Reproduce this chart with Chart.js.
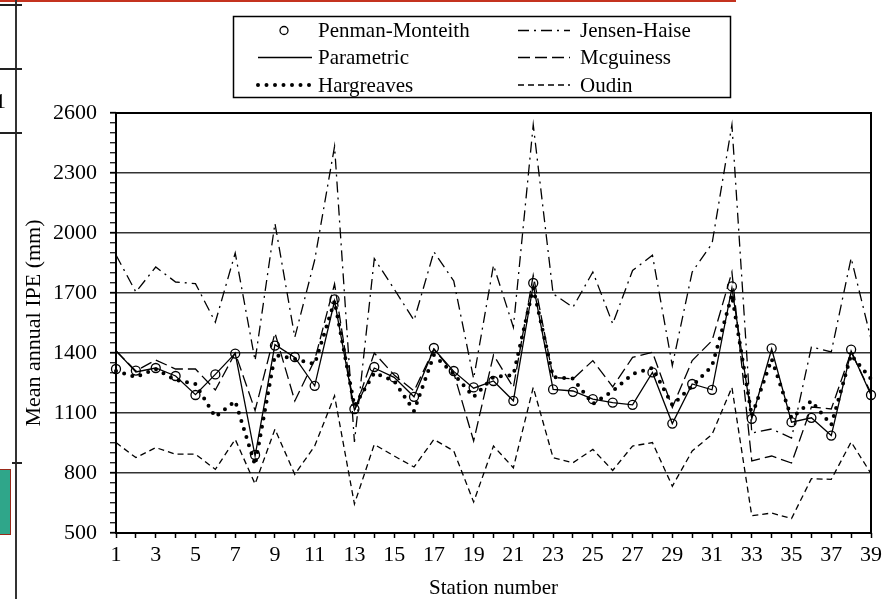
<!DOCTYPE html>
<html>
<head>
<meta charset="utf-8">
<script src="https://cdn.jsdelivr.net/npm/chart.js@4.4.0/dist/chart.umd.min.js"></script>
<style>
  body { margin: 0; background: #fff; }
  #wrap { position: relative; width: 884px; height: 599px; overflow: hidden; background: #fff; }
  #chart { position: absolute; left: 0; top: 0; }
  .deco { position: absolute; }
</style>
</head>
<body>
<div id="wrap">
  <canvas id="chart" width="884" height="599"></canvas>
  <!-- bits of the neighbouring figure that show at the left edge -->
  <div class="deco" style="left:0;top:0;width:736px;height:2px;background:#c4321f;"></div>
  <div class="deco" style="left:15px;top:0;width:2px;height:599px;background:#333;"></div>
  <div class="deco" style="left:0;top:4px;width:22px;height:2px;background:#222;"></div>
  <div class="deco" style="left:0;top:68px;width:22px;height:2px;background:#222;"></div>
  <div class="deco" style="left:0;top:132px;width:22px;height:2px;background:#222;"></div>
  <div class="deco" style="left:12px;top:462px;width:10px;height:2px;background:#222;"></div>
  <div class="deco" style="left:-5px;top:88px;font:22px 'Liberation Serif';color:#000;">1</div>
  <div class="deco" style="left:-2px;top:469px;width:11px;height:64px;background:#2fa68a;border:1.5px solid #9a2a1a;"></div>
</div>
<script>
var FONT = "'Liberation Serif', 'Times New Roman', serif";

var stations = [];
for (var n = 1; n <= 39; n++) stations.push(String(n));

var penmanMonteith = [1320, 1312, 1325, 1285, 1190, 1293, 1397, 890, 1437, 1380,
  1236, 1668, 1120, 1330, 1278, 1181, 1425, 1310, 1228, 1260,
  1161, 1750, 1218, 1206, 1169, 1152, 1141, 1303, 1047, 1245,
  1216, 1733, 1071, 1423, 1054, 1076, 987, 1417, 1190];

var parametric = [1412, 1305, 1325, 1285, 1192, 1293, 1398, 885, 1442, 1378,
  1236, 1660, 1115, 1325, 1278, 1181, 1420, 1308, 1224, 1260,
  1161, 1740, 1218, 1210, 1169, 1152, 1141, 1303, 1047, 1245,
  1216, 1725, 1071, 1420, 1054, 1076, 987, 1410, 1190];

var hargreaves = [1310, 1280, 1320, 1265, 1245, 1080, 1160, 840, 1390, 1370,
  1345, 1660, 1135, 1300, 1260, 1110, 1390, 1295, 1180, 1280,
  1290, 1725, 1280, 1272, 1145, 1210, 1295, 1325, 1140, 1235,
  1335, 1690, 1085, 1370, 1075, 1160, 1040, 1390, 1270];

var jensenHaise = [1890, 1705, 1830, 1755, 1747, 1554, 1900, 1362, 2048, 1479,
  1865, 2433, 955, 1872, 1720, 1563, 1906, 1760, 1272, 1839,
  1529, 2541, 1696, 1629, 1805, 1546, 1813, 1889, 1337, 1805,
  1947, 2541, 1000, 1020, 975, 1430, 1405, 1875, 1470];

var mcguiness = [1410, 1310, 1365, 1320, 1320, 1215, 1400, 1113, 1500, 1160,
  1365, 1745, 1110, 1400, 1290, 1210, 1420, 1300, 960, 1390,
  1228, 1788, 1278, 1270, 1362, 1231, 1378, 1404, 1128, 1362,
  1462, 1805, 860, 885, 850, 1130, 1120, 1405, 1200];

var oudin = [952, 877, 927, 894, 894, 818, 968, 745, 1019, 793,
  935, 1186, 645, 943, 885, 830, 968, 910, 655, 935,
  826, 1228, 876, 851, 918, 813, 935, 952, 734, 910,
  993, 1228, 586, 600, 572, 772, 768, 955, 797];

var yMin = 500, yMax = 2600, yMajor = 300, yMinor = 50;

function lineSet(label, data, dash, width, cap) {
  return {
    label: label,
    data: data,
    borderColor: '#000',
    borderWidth: width || 1.3,
    borderDash: dash,
    borderCapStyle: cap || 'butt',
    pointRadius: 0,
    fill: false,
    clip: false
  };
}

var datasets = [
  {
    label: 'Penman-Monteith',
    data: penmanMonteith,
    showLine: false,
    pointStyle: 'circle',
    pointRadius: 4.5,
    pointBorderWidth: 1.3,
    pointBorderColor: '#000',
    pointBackgroundColor: 'rgba(0,0,0,0)',
    borderColor: '#000',
    clip: false
  },
  lineSet('Parametric', parametric, [], 1.3),
  lineSet('Hargreaves', hargreaves, [0, 8.5], 4, 'round'),
  lineSet('Jensen-Haise', jensenHaise, [11, 5, 2, 5], 1.3),
  lineSet('Mcguiness', mcguiness, [12, 5], 1.3),
  lineSet('Oudin', oudin, [6, 4], 1.3)
];

// box round the plot area
var framePlugin = {
  id: 'frame',
  beforeDatasetsDraw: function(chart) {
    var a = chart.chartArea, ctx = chart.ctx;
    ctx.save();
    ctx.strokeStyle = '#000';
    ctx.lineWidth = 2;
    ctx.strokeRect(a.left, a.top, a.right - a.left, a.bottom - a.top);
    ctx.restore();
  }
};

// boxed legend in two columns
var legendPlugin = {
  id: 'boxLegend',
  afterDraw: function(chart) {
    var ctx = chart.ctx;
    var rows = [30.5, 57.5, 85];
    var cols = [{ x0: 258, x1: 312, tx: 318 }, { x0: 518, x1: 570, tx: 580 }];
    ctx.save();
    ctx.strokeStyle = '#000';
    ctx.lineWidth = 1.5;
    ctx.strokeRect(233.5, 16.5, 497, 81);
    ctx.font = '21px ' + FONT;
    ctx.fillStyle = '#000';
    ctx.textBaseline = 'middle';
    chart.data.datasets.forEach(function(ds, i) {
      var c = cols[i < 3 ? 0 : 1], y = rows[i % 3];
      ctx.save();
      ctx.strokeStyle = '#000';
      if (ds.showLine === false) {
        ctx.lineWidth = ds.pointBorderWidth;
        ctx.beginPath();
        ctx.arc(284, y, 4, 0, Math.PI * 2);
        ctx.stroke();
      } else {
        ctx.lineWidth = ds.borderWidth;
        ctx.lineCap = ds.borderCapStyle;
        ctx.setLineDash(ds.borderDash || []);
        ctx.beginPath();
        ctx.moveTo(c.x0, y);
        ctx.lineTo(c.x1, y);
        ctx.stroke();
      }
      ctx.restore();
      ctx.fillText(ds.label, c.tx, y + 1);
    });
    ctx.restore();
  }
};

new Chart(document.getElementById('chart').getContext('2d'), {
  type: 'line',
  data: { labels: stations, datasets: datasets },
  options: {
    responsive: false,
    animation: false,
    layout: { padding: { top: 113, right: 13, left: 0, bottom: 0 } },
    elements: { line: { tension: 0 } },
    plugins: {
      legend: { display: false },
      tooltip: { enabled: false }
    },
    scales: {
      x: {
        type: 'category',
        offset: false,
        border: { display: false },
        grid: { drawOnChartArea: false, drawTicks: true, tickLength: 5, tickColor: '#000', tickWidth: 1.5 },
        ticks: {
          autoSkip: false,
          maxRotation: 0,
          padding: 4,
          color: '#000',
          font: { family: FONT, size: 22 },
          callback: function(v, i) { return i % 2 === 0 ? this.getLabelForValue(v) : ''; }
        },
        title: {
          display: true,
          text: 'Station number',
          color: '#000',
          font: { family: FONT, size: 21, lineHeight: 1 },
          padding: { top: 0, bottom: 0 }
        },
        afterFit: function(s) {
          s.height = 66;
          s.paddingRight = 0;
          s.paddingLeft = 0;
        }
      },
      y: {
        min: yMin,
        max: yMax,
        border: { display: false },
        grid: {
          color: function(ctx) {
            if (!ctx.tick) return 'rgba(0,0,0,0)';
            return (ctx.tick.value - yMin) % yMajor === 0 ? '#333' : 'rgba(0,0,0,0)';
          },
          lineWidth: 1.5,
          tickColor: '#000',
          tickLength: 6,
          tickWidth: function(ctx) {
            return ctx.tick && (ctx.tick.value - yMin) % yMajor === 0 ? 1.8 : 1.2;
          }
        },
        ticks: {
          stepSize: yMinor,
          maxTicksLimit: 100,
          autoSkip: false,
          padding: 13,
          color: '#000',
          font: { family: FONT, size: 22 },
          callback: function(v) { return (v - yMin) % yMajor === 0 ? v : ''; }
        },
        title: {
          display: true,
          text: 'Mean annual IPE (mm)',
          color: '#000',
          font: { family: FONT, size: 22, lineHeight: 1.2 },
          padding: { top: 21, bottom: 0 }
        },
        afterFit: function(s) { s.width = 116; }
      }
    }
  },
  plugins: [framePlugin, legendPlugin]
});
</script>
</body>
</html>
